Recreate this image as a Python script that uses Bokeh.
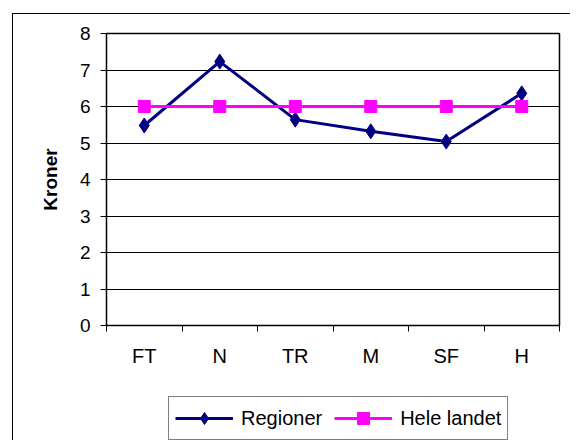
from bokeh.plotting import figure
from bokeh.layouts import column
from bokeh.models import FixedTicker, Legend, LegendItem, Range1d
from bokeh.embed import file_html
from bokeh.resources import INLINE

categories = ["FT", "N", "TR", "M", "SF", "H"]
regioner = [5.48, 7.23, 5.64, 5.32, 5.04, 6.36]
hele_landet = [6.0, 6.0, 6.0, 6.0, 6.0, 6.0]
y_ticks = [0, 1, 2, 3, 4, 5, 6, 7, 8]
series_names = ["Regioner", "Hele landet"]

FONT = "Liberation Sans"
NAVY = "#000080"
MAGENTA = "#FF00FF"

xs = [i + 0.5 for i in range(len(categories))]

p = figure(width=557, height=366, output_backend="svg", toolbar_location=None,
           x_range=Range1d(0, len(categories)), y_range=Range1d(0, 8),
           min_border_left=93, min_border_right=11, min_border_top=19,
           min_border_bottom=55)
p.background_fill_color = "white"
p.border_fill_color = "white"
p.outline_line_color = "black"
p.outline_line_width = 1.5

# y axis
p.yaxis.ticker = FixedTicker(ticks=y_ticks)
p.yaxis.major_tick_out = 6
p.yaxis.major_tick_in = 0
p.yaxis.minor_tick_line_color = None
p.yaxis.major_label_text_font = FONT
p.yaxis.major_label_text_font_size = "19px"
p.yaxis.major_label_text_color = "black"
p.yaxis.major_label_standoff = 10
p.yaxis.axis_label = "Kroner"
p.yaxis.axis_label_text_font = FONT
p.yaxis.axis_label_text_font_size = "19px"
p.yaxis.axis_label_text_font_style = "bold"
p.yaxis.axis_label_text_color = "black"
p.yaxis.axis_label_standoff = 16
p.yaxis.axis_line_color = "black"
p.yaxis.major_tick_line_color = "black"

# x axis
p.xaxis.ticker = FixedTicker(ticks=xs, minor_ticks=list(range(len(categories) + 1)))
p.xaxis.major_label_overrides = {x: c for x, c in zip(xs, categories)}
p.xaxis.major_tick_line_color = None
p.xaxis.minor_tick_out = 6
p.xaxis.minor_tick_in = 0
p.xaxis.minor_tick_line_color = "black"
p.xaxis.major_label_text_font = FONT
p.xaxis.major_label_text_font_size = "20px"
p.xaxis.major_label_text_color = "black"
p.xaxis.major_label_standoff = 13
p.xaxis.axis_line_color = "black"

p.xgrid.grid_line_color = None
p.ygrid.ticker = FixedTicker(ticks=y_ticks)
p.ygrid.grid_line_color = "black"
p.ygrid.grid_line_width = 1

p.line(xs, regioner, line_color=NAVY, line_width=3)
p.scatter(xs, regioner, marker="diamond", size=15, fill_color=NAVY, line_color=NAVY)
p.line(xs, hele_landet, line_color=MAGENTA, line_width=3)
p.scatter(xs, hele_landet, marker="square", size=12, fill_color=MAGENTA,
          line_color=MAGENTA)

# legend strip below the chart (series drawn off-range, only the legend shows)
p2 = figure(width=557, height=60, output_backend="svg", toolbar_location=None,
            x_range=Range1d(0, 1), y_range=Range1d(-3, -2),
            x_axis_type=None, y_axis_type=None,
            min_border_left=0, min_border_right=0, min_border_top=0,
            min_border_bottom=0)
p2.outline_line_color = None
p2.grid.grid_line_color = None
p2.background_fill_color = "white"
p2.border_fill_color = "white"

l1 = p2.line(xs, regioner, line_color=NAVY, line_width=3)
m1 = p2.scatter(xs, regioner, marker="diamond", size=15, fill_color=NAVY, line_color=NAVY)
l2 = p2.line(xs, hele_landet, line_color=MAGENTA, line_width=3)
m2 = p2.scatter(xs, hele_landet, marker="square", size=12, fill_color=MAGENTA,
                line_color=MAGENTA)

legend = Legend(items=[LegendItem(label=series_names[0], renderers=[l1, m1]),
                       LegendItem(label=series_names[1], renderers=[l2, m2])],
                orientation="horizontal", location=(62, 0),
                glyph_width=58, glyph_height=30, label_standoff=8, spacing=12,
                padding=6, margin=0,
                label_text_font=FONT, label_text_font_size="20px",
                label_text_color="black",
                border_line_color="black", border_line_width=1,
                background_fill_color="white", background_fill_alpha=1)
p2.add_layout(legend, "center")

layout = column(p, p2, spacing=0,
                styles={"margin-left": "12px", "margin-top": "13px",
                        "border-left": "1px solid black",
                        "border-top": "1px solid black"})

open("out.html", "w").write(file_html(layout, INLINE))
